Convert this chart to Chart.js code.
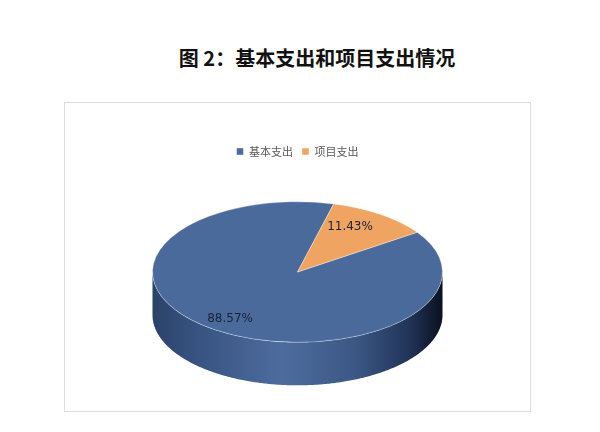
<!DOCTYPE html>
<html>
<head>
<meta charset="utf-8">
<script src="https://cdn.jsdelivr.net/npm/chart.js@4/dist/chart.umd.min.js"></script>
<style>
  body { margin: 0; background: #fff; width: 600px; height: 432px; position: relative; overflow: hidden; }
  .title {
    position: absolute; left: 0; width: 634px; top: 43px; text-align: center;
    font-family: "Noto Sans CJK SC", sans-serif; font-weight: bold; font-size: 20px; color: #111;
  }
  .frame {
    position: absolute; left: 64px; top: 102px; width: 467px; height: 310px;
    box-sizing: border-box; border: 1px solid #dcdcdc;
  }
  canvas { display: block; }
</style>
</head>
<body>
<div class="title">图 2：基本支出和项目支出情况</div>
<div class="frame"><canvas id="pie" width="465" height="308"></canvas></div>
<script>
const categories = ['基本支出', '项目支出'];
const shares = [88.57, 11.43];
const labels = ['88.57%', '11.43%'];
const colors = ['#4a6a9c', '#f0a462'];

// 3d look
const tilt = 0.485;
const depth = 43;
const shiftY = -17;

function sideGradient(ctx, cx, r) {
    const g = ctx.createLinearGradient(cx - r, 0, cx + r, 0);
    g.addColorStop(0, '#2b4268');
    g.addColorStop(0.12, '#35507d');
    g.addColorStop(0.45, '#4d6c9e');
    g.addColorStop(0.7, '#3b5784');
    g.addColorStop(0.88, '#22355a');
    g.addColorStop(1, '#0a1120');
    return g;
}

const pie3d = {
    id: 'pie3d',
    beforeDatasetsDraw(chart) {
        const ctx = chart.ctx;
        const arcs = chart.getDatasetMeta(0).data;
        const cx = arcs[0].x, cy = arcs[0].y, r = arcs[0].outerRadius;
        const cyE = cy + shiftY;
        ctx.save();
        arcs.forEach((arc, i) => {
            const a = arc.startAngle, b = arc.endAngle;
            for (let k = -1; k <= 2; k++) {
                const lo = Math.max(a, k * 2 * Math.PI);
                const hi = Math.min(b, k * 2 * Math.PI + Math.PI);
                if (hi <= lo) continue;
                ctx.beginPath();
                for (let t = lo; t <= hi; t += 0.01) {
                    ctx.lineTo(cx + r * Math.cos(t), cyE + r * tilt * Math.sin(t));
                }
                ctx.lineTo(cx + r * Math.cos(hi), cyE + r * tilt * Math.sin(hi));
                for (let t = hi; t >= lo; t -= 0.01) {
                    ctx.lineTo(cx + r * Math.cos(t), cyE + depth + r * tilt * Math.sin(t));
                }
                ctx.lineTo(cx + r * Math.cos(lo), cyE + depth + r * tilt * Math.sin(lo));
                ctx.closePath();
                ctx.fillStyle = i === 0 ? sideGradient(ctx, cx, r) : '#c07a3c';
                ctx.fill();
            }
        });
        ctx.restore();
        ctx.save();
        ctx.translate(0, cyE);
        ctx.scale(1, tilt);
        ctx.translate(0, -cy);
    },
    afterDatasetsDraw(chart) {
        const ctx = chart.ctx;
        ctx.restore();
        const arcs = chart.getDatasetMeta(0).data;
        ctx.save();
        ctx.font = '12px "DejaVu Sans", sans-serif';
        ctx.textAlign = 'center';
        ctx.textBaseline = 'middle';
        ctx.fillStyle = '#1b2235';
        arcs.forEach((arc, i) => {
            const mid = (arc.startAngle + arc.endAngle) / 2;
            const d = arc.outerRadius * (i === 0 ? 0.81 : 0.74);
            const ang = i === 0 ? mid : mid - 0.1;
            ctx.fillText(labels[i], arc.x + d * Math.cos(ang), arc.y + shiftY + d * tilt * Math.sin(ang));
        });
        ctx.restore();
    }
};

new Chart(document.getElementById('pie'), {
    type: 'pie',
    data: {
        labels: categories,
        datasets: [{
            data: shares,
            backgroundColor: colors,
            borderColor: 'rgba(255,255,255,0.45)',
            borderWidth: 1,
            radius: 145,
            clip: false
        }]
    },
    options: {
        responsive: false,
        animation: false,
        events: [],
        rotation: 55.6,
        layout: { padding: { top: 34 } },
        plugins: {
            legend: {
                position: 'top',
                labels: {
                    boxWidth: 7,
                    boxHeight: 7,
                    padding: 9,
                    color: '#595959',
                    font: { family: '"Noto Sans CJK SC", sans-serif', size: 11 }
                }
            },
            tooltip: { enabled: false }
        }
    },
    plugins: [pie3d]
});
</script>
</body>
</html>
